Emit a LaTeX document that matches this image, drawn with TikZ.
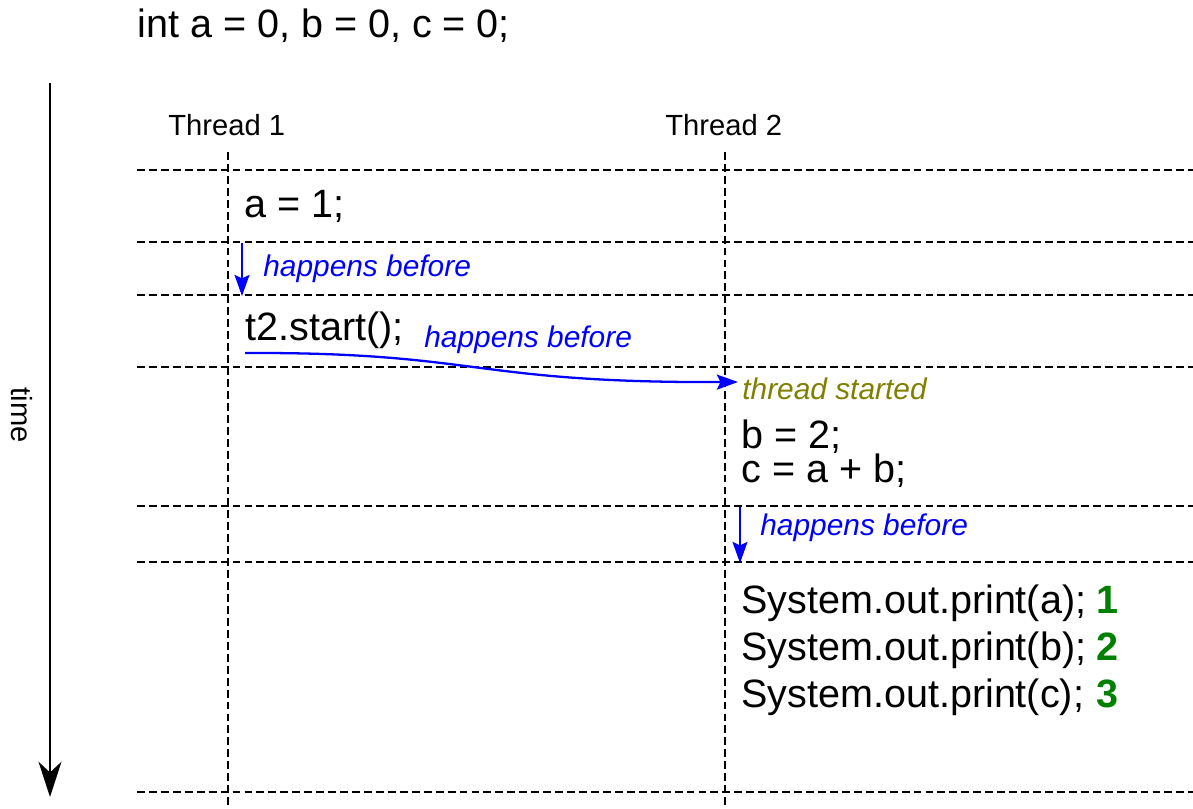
\documentclass[tikz,border=0pt]{standalone}
\usepackage{fontspec}
\setmainfont{Liberation Sans}
\usetikzlibrary{arrows.meta}
\usetikzlibrary{positioning}

\definecolor{olivetxt}{RGB}{128,128,0}
\definecolor{greennum}{RGB}{0,128,0}

\tikzset{
  gridline/.style={dash pattern=on 4.5pt off 2.3pt, line width=1.15pt},
  code/.style={anchor=base west, inner sep=0pt, font=\fontsize{22.5}{27}\selectfont},
  label/.style={anchor=base west, inner sep=0pt, font=\fontsize{16.6}{20}\selectfont},
  hb/.style={anchor=base west, inner sep=0pt, blue, font=\itshape\fontsize{17}{20}\selectfont},
  hbarrow/.style={blue, line width=1.3pt, -{Stealth[length=12pt,width=8.5pt,inset=2pt]}},
  num/.style={anchor=base west, inner sep=0pt, greennum, font=\bfseries\fontsize{22.5}{27}\selectfont}
}

\begin{document}
\begin{tikzpicture}[x=0.02cm,y=-0.02cm]
            \useasboundingbox (0,0) rectangle (1193,808);

            % grid of time slots
            \foreach \y in {170,242,295,367,506,562,792}
                \draw[gridline] (137,\y) -- (1193,\y);
            \foreach \x in {228,725}
                \draw[gridline] (\x,152) -- (\x,808);

            % time axis
            \coordinate (tstart) at (50,83);
            \coordinate (tend) at (50,797);
            \draw[line width=1.6pt, -{Stealth[length=20pt,width=13pt,inset=6pt]}] (tstart) -- (tend);
            \node[rotate=-90, inner sep=0pt, font=\fontsize{16.6}{20}\selectfont] (time) at (22,415) {time};

            \node[code] (init) at (137,37) {int a = 0, b = 0, c = 0;};
            \node[label] (th1) at (168,135) {Thread 1};
            \node[label] (th2) at (665,135) {Thread 2};

            % thread 1
            \node[code] (seta) at (244,217) {a = 1;};
            \coordinate (hb1s) at (242,243);
            \coordinate (hb1e) at (242,296);
            \draw[hbarrow] (hb1s) -- (hb1e);
            \node[hb] (hb1) at (263,276) {happens before};
            \node[code] (start) at (245,340) {t2.start();};
            \node[hb] (hb2) at (424,347) {happens before};

            % start edge
            \coordinate (hb2s) at (245,353);
            \coordinate (hb2e) at (738,382);
            \draw[hbarrow] (hb2s) .. controls (480,352) and (470,383) .. (hb2e);

            % thread 2
            \node[anchor=base west, inner sep=0pt, olivetxt, font=\itshape\fontsize{17}{20}\selectfont] (started) at (742,399) {thread started};
            \node[code, align=left, font=\fontsize{22.5}{19.3}\selectfont] (setbc) at (741,482) {b = 2;\\c = a + b;};
            \coordinate (hb3s) at (740,507);
            \coordinate (hb3e) at (740,563);
            \draw[hbarrow] (hb3s) -- (hb3e);
            \node[hb] (hb3) at (760,535) {happens before};

            \node[code] (pa) at (741,613) {System.out.print(a);};
            \node[code] (pb) at (741,660) {System.out.print(b);};
            \node[code] (pc) at (741,707) {System.out.print(c);};
            \node[num] (na) at (1096,613) {1};
            \node[num] (nb) at (1096,660) {2};
            \node[num] (nc) at (1096,707) {3};
\end{tikzpicture}
\end{document}
